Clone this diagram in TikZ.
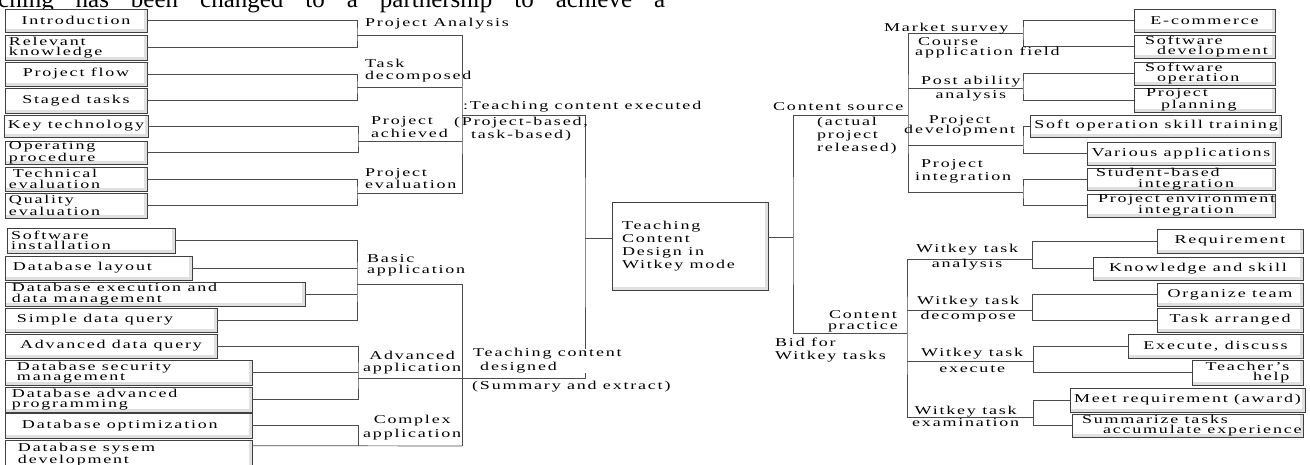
\documentclass[tikz,border=0pt]{standalone}
\usepackage{fontspec}
\setmainfont{Liberation Serif}[FakeStretch=1.5,LetterSpace=15]
\newfontfamily\headfont{Liberation Serif}
\hyphenpenalty=10000
\exhyphenpenalty=10000

\begin{document}
\begin{tikzpicture}[x=1pt,y=-1pt,font=\fontsize{12}{12}\selectfont,
   conn/.style={draw=black!70,line width=0.7pt},
   box/.style={draw=black!75,line width=0.7pt,fill=white,inner sep=0pt,inner xsep=4pt,
      font=\fontsize{12}{10.5}\selectfont,
      path picture={\draw[black!12,line width=3pt]
         ([xshift=-1.5pt]path picture bounding box.north east)
         -- ([xshift=-1.5pt,yshift=1.5pt]path picture bounding box.south east)
         -- ([yshift=1.5pt]path picture bounding box.south west);}},
   lbox/.style={box,text width=#1,align=left,execute at begin node={\spaceskip=6.3pt\relax}},
   lbl/.style={inner sep=0pt,anchor=west,align=left}]
   \useasboundingbox (0,0) rectangle (1310,464);
   \node[anchor=base west,inner sep=0pt,font=\fontsize{25}{25}\headfont] (head) at (-2,7.5)
      {\makebox[667pt][s]{ching has been changed to a partnership to achieve a}};

   % project analysis side
   \node[box,minimum width=142pt,minimum height=23pt] (intro) at (76,20.5) {Introduction};
   \node[lbox=134pt,minimum height=25pt] (relk) at (76,47.5) {Relevant\\knowledge};
   \node[box,minimum width=142pt,minimum height=24pt] (pflow) at (76,74) {Project flow};
   \node[box,minimum width=142pt,minimum height=25pt] (staged) at (76,100.5) {Staged tasks};
   \node[box,minimum width=142pt,minimum height=22pt] (keytech) at (76,126) {Key technology};
   \node[lbox=134pt,minimum height=23pt] (oper) at (76,152.5) {Operating\\procedure};
   \node[lbox=134pt,minimum height=24pt] (techev) at (76,179) {\hspace*{4pt}Technical\\evaluation};
   \node[lbox=134pt,minimum height=25pt] (qualev) at (76,205.5) {Quality\\evaluation};

   % application side
   \node[lbox=160pt,minimum height=25pt] (swinst) at (91,240.5) {Software\\installation};
   \node[lbox=179pt,minimum height=24pt] (dblay) at (98.5,268) {\hspace*{4pt}\mbox{Database layout}};
   \node[lbox=292pt,minimum height=24pt] (dbexe) at (155,294) {\hspace*{3pt}\mbox{Database execution and}\\\hspace*{3pt}\mbox{data management}};
   \node[lbox=204pt,minimum height=24pt] (simq) at (111,320) {\hspace*{8pt}\mbox{Simple data query}};
   \node[box,minimum width=212pt,minimum height=24pt] (advq) at (111,346) {Advanced data query};
   \node[lbox=239pt,minimum height=25pt] (dbsec) at (128.5,372.5) {\hspace*{8pt}\mbox{Database security}\\\hspace*{8pt}management};
   \node[lbox=239pt,minimum height=25pt] (dbprog) at (128.5,399.5) {\hspace*{3pt}\mbox{Database advanced}\\\hspace*{3pt}programming};
   \node[lbox=239pt,minimum height=25pt] (dbopt) at (128.5,425.5) {\hspace*{13pt}\mbox{Database optimization}};
   \node[lbox=239pt,minimum height=30pt] (dbsys) at (128.5,455) {\hspace*{9pt}\mbox{Database sysem}\\\hspace*{9pt}development};

   \node[lbox=136pt,inner xsep=10pt,minimum height=88pt,font=\fontsize{12}{13}\selectfont] (cbox) at (690,246)
      {Teaching\\Content\\\mbox{Design in}\\\mbox{Witkey mode}};

   % content source side
   \node[box,minimum width=141pt,minimum height=23pt] (ecom) at (1204.5,20.5) {E-commerce};
   \node[lbox=133pt,minimum height=23pt] (swdev) at (1204.5,46.5) {\hspace*{7pt}Software\\\hspace*{19pt}development};
   \node[lbox=133pt,minimum height=23pt] (swop) at (1204.5,73.5) {\hspace*{7pt}Software\\\hspace*{19pt}operation};
   \node[lbox=133pt,minimum height=24pt] (plan) at (1204.5,100) {\hspace*{8pt}Project\\\hspace*{23pt}planning};
   \node[box,minimum width=238pt,minimum height=22pt] (soft) at (1156,126) {Soft operation skill training};
   \node[box,minimum width=188pt,minimum height=23pt] (vari) at (1181,153.5) {Various applications};
   \node[lbox=180pt,minimum height=22pt] (stud) at (1181,179) {\hspace*{5pt}Student-based\\\hspace*{47pt}integration};
   \node[lbox=180pt,minimum height=23pt] (penv) at (1181,205.5) {\hspace*{7pt}\mbox{Project environment}\\\hspace*{47pt}integration};

   % witkey side
   \node[box,minimum width=146pt,minimum height=24pt] (req) at (1230,241) {Requirement};
   \node[box,minimum width=210pt,minimum height=23pt] (know) at (1198,268.5) {Knowledge and skill};
   \node[box,minimum width=146pt,minimum height=23pt] (org) at (1230,294.5) {Organize team};
   \node[box,minimum width=146pt,minimum height=24pt] (arr) at (1230,320) {Task arranged};
   \node[box,minimum width=175pt,minimum height=24pt] (exdis) at (1215.5,346) {Execute, discuss};
   \node[box,align=right,minimum width=111pt,minimum height=25pt] (thelp) at (1247.5,372.5) {Teacher's\\help};
   \node[box,minimum width=231pt,minimum height=24pt] (meet) at (1187.5,400) {Meet requirement (award)};
   \node[lbox=223pt,minimum height=23pt] (summ) at (1187.5,425.5) {\hspace*{6pt}\mbox{Summarize tasks}\\\hspace*{27pt}\mbox{accumulate experience}};

   \coordinate (ja) at (357,35);
   \coordinate (jb) at (357,87);
   \coordinate (jc) at (358,141);
   \coordinate (jd) at (357,193);
   \coordinate (exe) at (462,115);
   \coordinate (trunk) at (585,238);
   \coordinate (jbas) at (357,284);
   \coordinate (jadv) at (358,378);
   \coordinate (jcom) at (358,446);
   \coordinate (low) at (462,446);
   \coordinate (rtrunk) at (793,237);
   \coordinate (src) at (908,115);
   \coordinate (prac) at (907,333);
   \coordinate (r1) at (1023,33);
   \coordinate (r2) at (1023,88);
   \coordinate (r3) at (1023,145);
   \coordinate (r4) at (1023,192);
   \coordinate (w1) at (1032,259);
   \coordinate (w2) at (1032,310);
   \coordinate (w3) at (1033,361);
   \coordinate (w4) at (1033,417);

   \draw[conn] (intro.east) -| (ja) |- (relk.east);
   \draw[conn] (pflow.east) -| (jb) |- (staged.east);
   \draw[conn] (keytech.east) -| (jc) |- (oper.east);
   \draw[conn] (techev.east) -| (jd) |- (qualev.east);
   \draw[conn] (ja) -| (exe) |- (jd);
   \draw[conn] (jb) -- (jb -| exe);
   \draw[conn] (jc) -- (jc -| exe);
   \draw[conn] (exe) -| (trunk) |- (jadv);
   \draw[conn] (trunk) -- (trunk -| cbox.west);
   \draw[conn] (swinst.east) -| (jbas) |- (simq.east);
   \draw[conn] (dblay.east) -- (dblay.east -| jbas);
   \draw[conn] (dbexe.east) -- (dbexe.east -| jbas);
   \draw[conn] (jbas) -| (low);
   \draw[conn] (advq.east) -| (jadv) |- (dbprog.east);
   \draw[conn] (dbsec.east) -- (dbsec.east -| jadv);
   \draw[conn] (dbopt.east) -| (jcom);
   \draw[conn] ([yshift=-6pt]dbsys.north east) -- (low);

   \draw[conn] (rtrunk -| cbox.east) -- (rtrunk);
   \draw[conn] (src) -| (rtrunk) |- (prac);
   \draw[conn] (r1) -| (src) |- (r4);
   \draw[conn] (r2) -- (r2 -| src);
   \draw[conn] (r3) -- (r3 -| src);
   \draw[conn] (ecom.west) -| (r1) |- (swdev.west);
   \draw[conn] (swop.west) -| (r2) |- (plan.west);
   \draw[conn] (soft.west) -| (r3) |- (vari.west);
   \draw[conn] (stud.west) -| (r4) |- (penv.west);
   \draw[conn] (w1) -| (prac) |- (w4);
   \draw[conn] (w2) -- (w2 -| prac);
   \draw[conn] (w3) -- (w3 -| prac);
   \draw[conn] (req.west) -| (w1) |- (know.west);
   \draw[conn] (org.west) -| (w2) |- (arr.west);
   \draw[conn] (exdis.west) -| (w3) |- (thelp.west);
   \draw[conn] (meet.west) -| (w4) |- (summ.west);

   \node[lbl] (pa_l) at (365,24) {Project Analysis};
   \node[lbl] (td_l) at (365,71) {Task\\decomposed};
   \node[lbl] (ex_l) at (463,107) {:Teaching content executed};
   \node[lbl,align=center] (pb_l) at (454,129.5) {(Project-based,\\[1pt]task-based)};
   \node[lbl] (ach_l) at (371,127.5) {Project\\[1pt]achieved};
   \node[lbl] (ev_l) at (365,179) {Project\\evaluation};
   \node[lbl] (bas_l) at (367,265.5) {Basic\\[-1pt]application};
   \node[lbl,align=center] (adv_l) at (363,363) {Advanced\\application};
   \node[lbl,align=center] (com_l) at (363,428) {Complex\\[2pt]application};
   \node[lbl,fill=white] (des_l) at (473,361) {Teaching content\\[2pt]\hspace*{7pt}designed};
   \node[lbl] (sum_l) at (472,387) {(Summary and extract)};
   \node[lbl] (src_l) at (773,107) {Content source};
   \node[lbl] (act_l) at (817,135.7) {(actual\\[1pt]project\\[1pt]released)};
   \node[lbl] (ms_l) at (884,29) {Market survey};
   \node[lbl] (caf_l) at (915,48) {\hspace*{3pt}Course\\[-2pt]application field};
   \node[lbl,align=center] (pab_l) at (921,89) {Post ability\\[2pt]analysis};
   \node[lbl,align=center] (pd_l) at (904,126) {Project\\[-2pt]development};
   \node[lbl] (pi_l) at (915,171.5) {\hspace*{6pt}Project\\[1pt]integration};
   \node[lbl,align=center] (cp_l) at (828,321.5) {Content\\[-1pt]practice};
   \node[lbl] (bid_l) at (775,350.5) {Bid for\\[1pt]Witkey tasks};
   \node[lbl,align=center] (wa_l) at (916,257.5) {Witkey task\\[3pt]analysis};
   \node[lbl,align=center] (wd_l) at (917,309.5) {Witkey task\\[3pt]decompose};
   \node[lbl,align=center] (we_l) at (921,360) {Witkey task\\[4pt]execute};
   \node[lbl,align=center] (wx_l) at (912,416) {Witkey task\\examination};
\end{tikzpicture}
\end{document}
